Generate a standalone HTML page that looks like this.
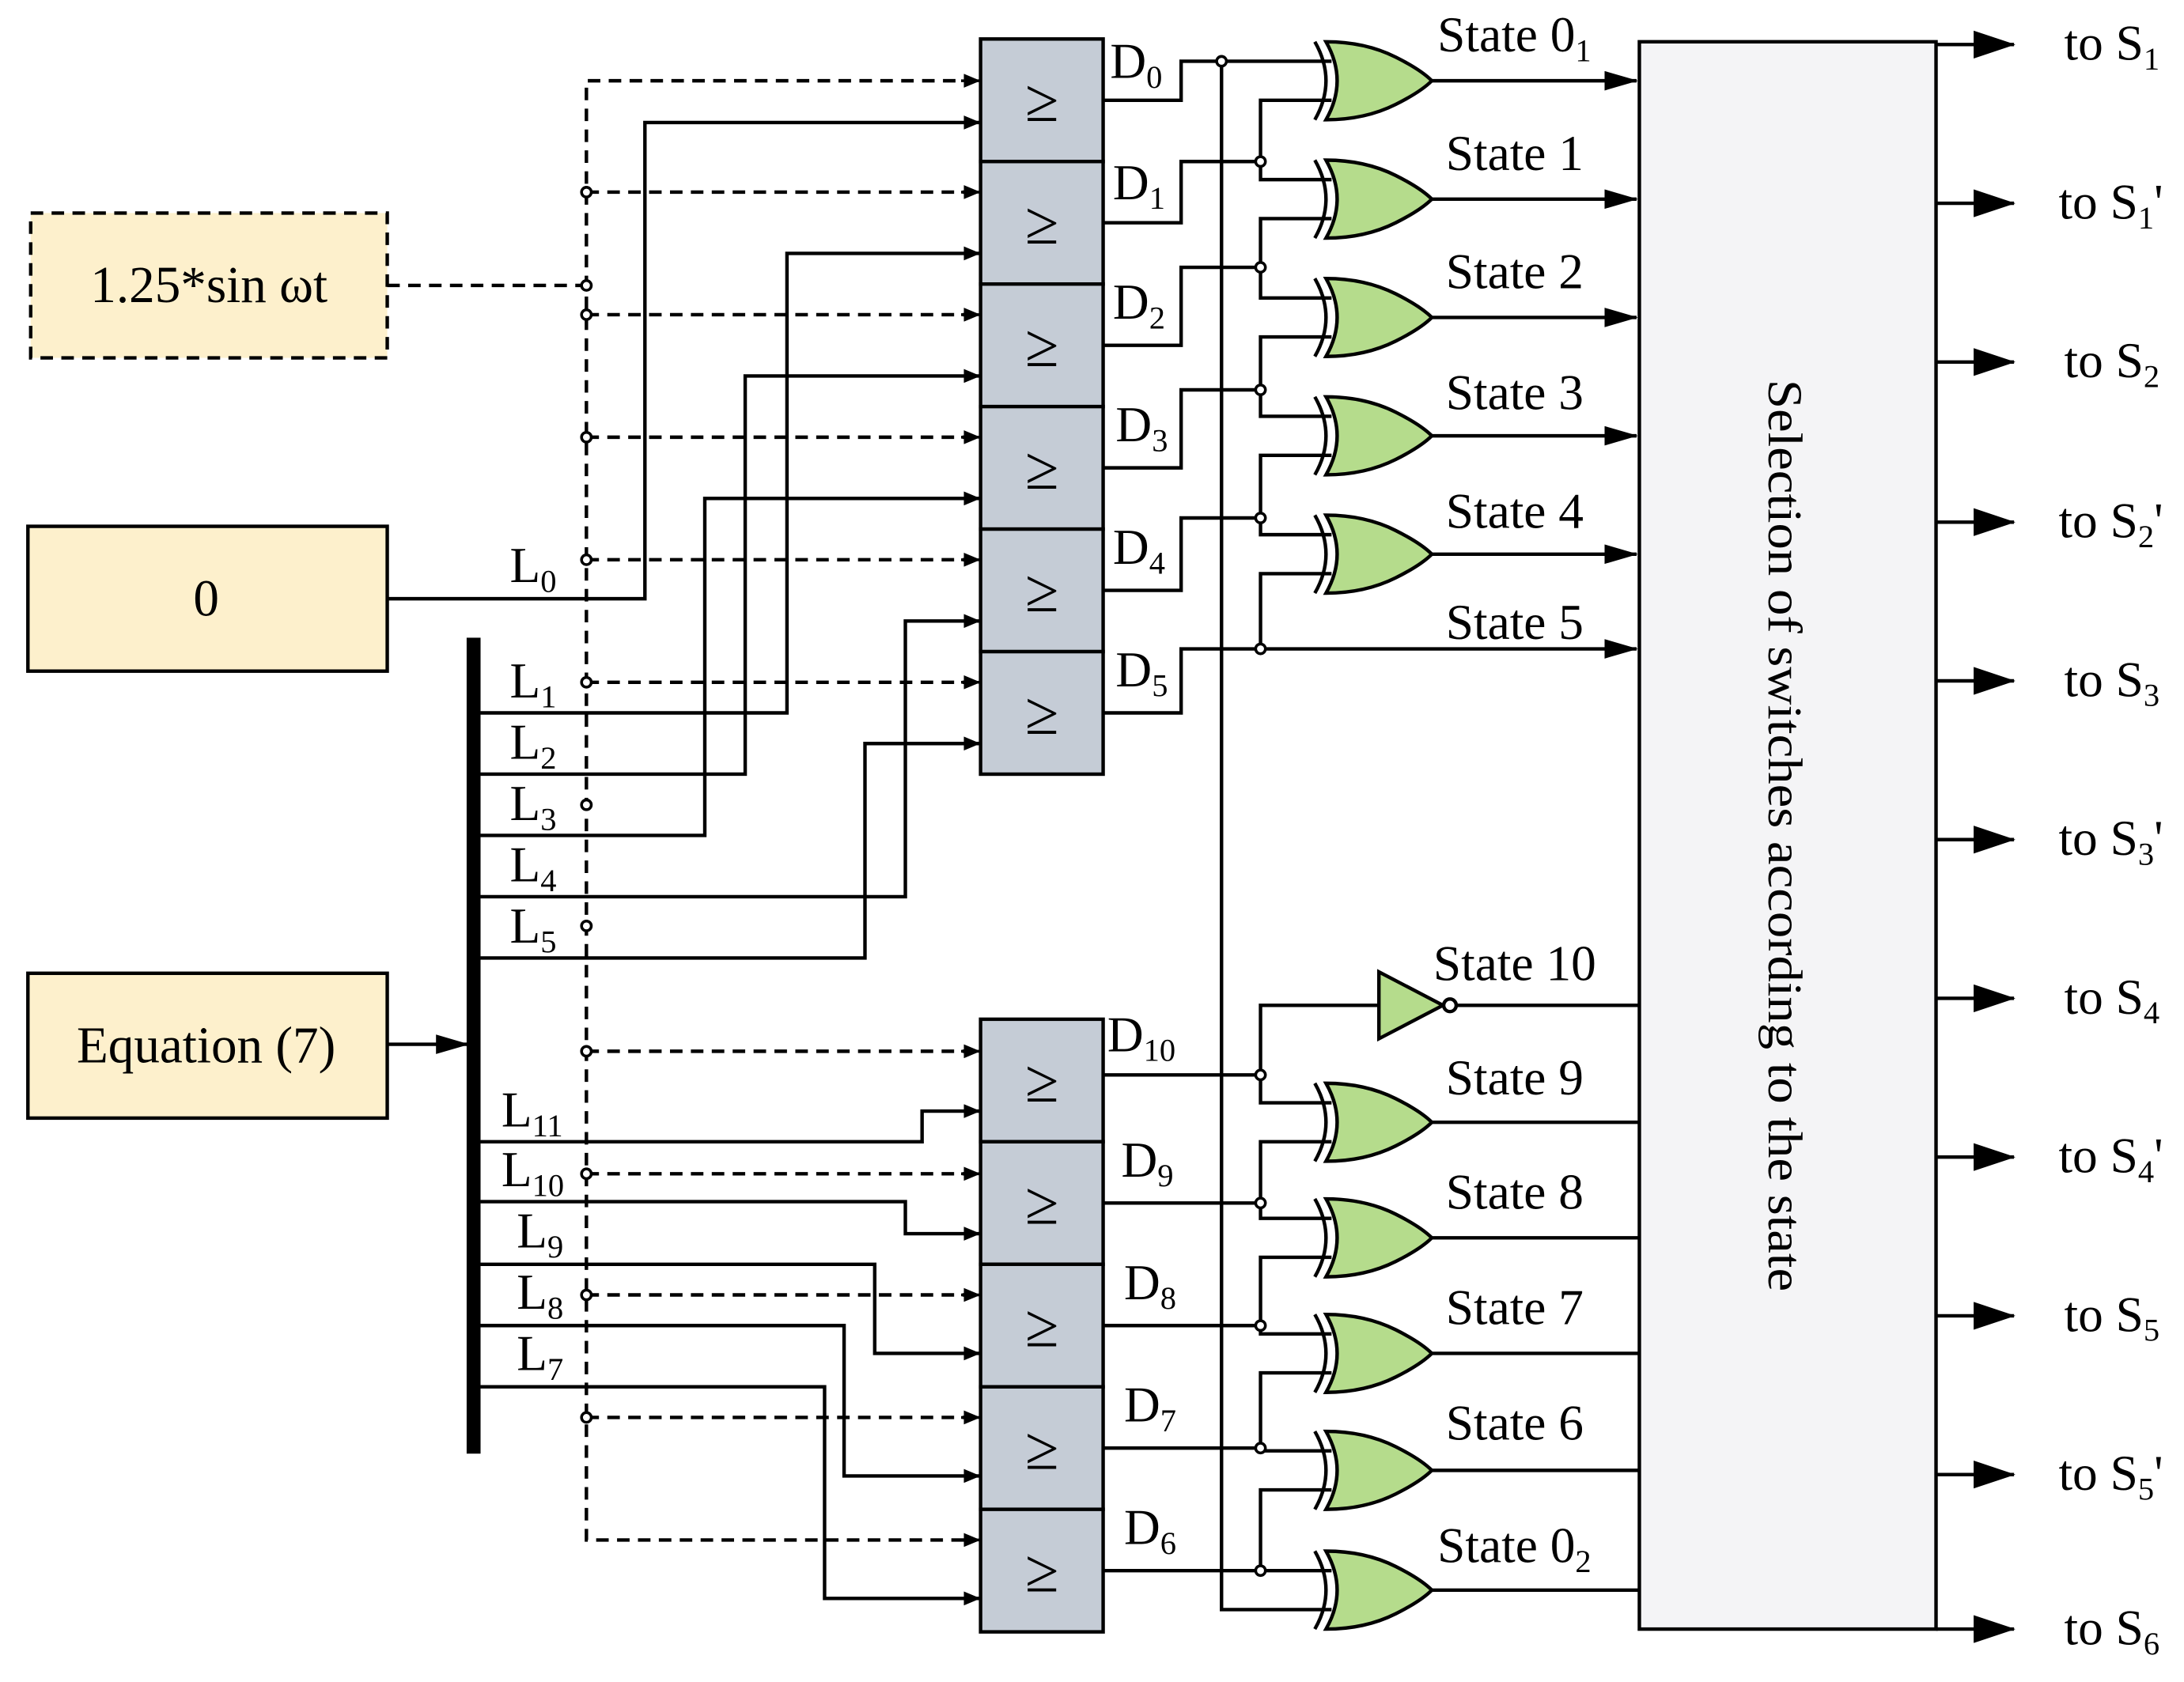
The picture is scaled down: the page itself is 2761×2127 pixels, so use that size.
<!DOCTYPE html>
<html><head><meta charset="utf-8"><style>html,body{margin:0;padding:0;background:#fff}svg{display:block}</style></head><body>
<svg width="2761" height="2127" viewBox="0 0 1568 1208" xmlns="http://www.w3.org/2000/svg" font-family="Liberation Serif, serif" font-size="36">
<defs>
<marker id="a" markerWidth="12" markerHeight="10" refX="11" refY="5" orient="auto" markerUnits="userSpaceOnUse"><path d="M0,0 L12,5 L0,10 Z" fill="#000"/></marker>
<marker id="b" markerWidth="30" markerHeight="20" refX="29" refY="10" orient="auto" markerUnits="userSpaceOnUse"><path d="M0,0 L30,10 L0,20 Z" fill="#000"/></marker>
<marker id="c" markerWidth="24" markerHeight="14" refX="23" refY="7" orient="auto" markerUnits="userSpaceOnUse"><path d="M0,0 L24,7 L0,14 Z" fill="#000"/></marker>
<g id="x"><path d="M952,-28 Q980,-28 1002,-17 Q1020,-8 1028,0 Q1020,8 1002,17 Q980,28 952,28 Q968,0 952,-28 Z" fill="#b5dc8c" stroke="#000" stroke-width="2.5"/><path d="M944,-28 Q960,0 944,28" fill="none" stroke="#000" stroke-width="2.5"/></g>
</defs>
<g stroke="#000" stroke-width="2.5" fill="none">
<rect x="22" y="153" width="256" height="104" fill="#fdf0cc" stroke-dasharray="9,6"/>
<rect x="20" y="378" width="258" height="104" fill="#fdf0cc"/>
<rect x="20" y="699" width="258" height="104" fill="#fdf0cc"/>
<line x1="278" y1="750" x2="336" y2="750" marker-end="url(#c)"/>
<rect x="335" y="458" width="10" height="586" fill="#000" stroke="none"/>
<g stroke-dasharray="9,6">
<path d="M278,205 H421"/>
<path d="M701,58 H421 V1106 H701"/>
<line x1="421" y1="138" x2="701" y2="138"/><line x1="421" y1="226" x2="701" y2="226"/><line x1="421" y1="314" x2="701" y2="314"/><line x1="421" y1="402" x2="701" y2="402"/><line x1="421" y1="490" x2="701" y2="490"/>
<line x1="421" y1="755" x2="701" y2="755"/><line x1="421" y1="843" x2="701" y2="843"/><line x1="421" y1="930" x2="701" y2="930"/><line x1="421" y1="1018" x2="701" y2="1018"/>
</g>
<g marker-end="url(#a)" stroke-width="2"><line x1="690" y1="58" x2="703" y2="58"/><line x1="690" y1="138" x2="703" y2="138"/><line x1="690" y1="226" x2="703" y2="226"/><line x1="690" y1="314" x2="703" y2="314"/><line x1="690" y1="402" x2="703" y2="402"/><line x1="690" y1="490" x2="703" y2="490"/><line x1="690" y1="755" x2="703" y2="755"/><line x1="690" y1="843" x2="703" y2="843"/><line x1="690" y1="930" x2="703" y2="930"/><line x1="690" y1="1018" x2="703" y2="1018"/><line x1="690" y1="1106" x2="703" y2="1106"/></g>
<g marker-end="url(#a)">
<path d="M278,430 H463 V88 H703"/>
<path d="M345,512 H565 V182 H703"/>
<path d="M345,556 H535 V270 H703"/>
<path d="M345,600 H506 V358 H703"/>
<path d="M345,644 H650 V446 H703"/>
<path d="M345,688 H621 V534 H703"/>
<path d="M345,820 H662 V798 H703"/>
<path d="M345,863 H650 V886 H703"/>
<path d="M345,908 H628 V972 H703"/>
<path d="M345,952 H606 V1060 H703"/>
<path d="M345,996 H592 V1148 H703"/>
</g>
<g fill="#c5ccd6"><rect x="704" y="28" width="88" height="88"/><rect x="704" y="116" width="88" height="88"/><rect x="704" y="204" width="88" height="88"/><rect x="704" y="292" width="88" height="88"/><rect x="704" y="380" width="88" height="88"/><rect x="704" y="468" width="88" height="88"/>
<rect x="704" y="732" width="88" height="88"/><rect x="704" y="820" width="88" height="88"/><rect x="704" y="908" width="88" height="88"/><rect x="704" y="996" width="88" height="88"/><rect x="704" y="1084" width="88" height="88"/></g>
<!-- upper outputs -->
<path d="M792,72 H848 V44 H956"/>
<path d="M877,44 V1156 H956"/>
<path d="M792,160 H848 V116 H905"/>
<path d="M792,248 H848 V192 H905"/>
<path d="M792,336 H848 V280 H905"/>
<path d="M792,424 H848 V372 H905"/>
<path d="M792,512 H848 V466 H905"/>
<path d="M956,72 H905 V129 H956"/>
<path d="M956,157 H905 V214 H956"/>
<path d="M956,242 H905 V299 H956"/>
<path d="M956,327 H905 V384 H956"/>
<path d="M956,412 H905 V466"/>
<line x1="905" y1="466" x2="1175" y2="466" marker-end="url(#c)"/>
<!-- lower -->
<path d="M792,772 H905"/>
<path d="M990,722 H905 V792 H956"/>
<path d="M792,864 H905"/><path d="M956,820 H905 V875 H956"/>
<path d="M792,952 H905"/><path d="M956,903 H905 V958 H956"/>
<path d="M792,1040 H905"/><path d="M956,986 H905 V1042 H956"/>
<path d="M792,1128 H905"/><path d="M956,1070 H905 V1128 H956"/>
<polygon points="990,698 990,746 1036,722" fill="#b5dc8c"/>
<circle cx="1041" cy="722" r="4.5" fill="#fff"/>
<line x1="1046" y1="722" x2="1177" y2="722"/>
<g marker-end="url(#c)"><line x1="1028" y1="58" x2="1175" y2="58"/><line x1="1028" y1="143" x2="1175" y2="143"/><line x1="1028" y1="228" x2="1175" y2="228"/><line x1="1028" y1="313" x2="1175" y2="313"/><line x1="1028" y1="398" x2="1175" y2="398"/></g>
<line x1="1028" y1="806" x2="1177" y2="806"/><line x1="1028" y1="889" x2="1177" y2="889"/><line x1="1028" y1="972" x2="1177" y2="972"/><line x1="1028" y1="1056" x2="1177" y2="1056"/><line x1="1028" y1="1142" x2="1177" y2="1142"/>
<rect x="1177" y="30" width="213" height="1140" fill="#f4f4f6"/>
<g marker-end="url(#b)"><line x1="1390" y1="32" x2="1446" y2="32"/><line x1="1390" y1="146" x2="1446" y2="146"/><line x1="1390" y1="260" x2="1446" y2="260"/><line x1="1390" y1="375" x2="1446" y2="375"/><line x1="1390" y1="489" x2="1446" y2="489"/><line x1="1390" y1="603" x2="1446" y2="603"/><line x1="1390" y1="717" x2="1446" y2="717"/><line x1="1390" y1="831" x2="1446" y2="831"/><line x1="1390" y1="945" x2="1446" y2="945"/><line x1="1390" y1="1059" x2="1446" y2="1059"/><line x1="1390" y1="1170" x2="1446" y2="1170"/></g>
</g>
<use href="#x" y="58"/><use href="#x" y="143"/><use href="#x" y="228"/><use href="#x" y="313"/><use href="#x" y="398"/>
<use href="#x" y="806"/><use href="#x" y="889"/><use href="#x" y="972"/><use href="#x" y="1056"/><use href="#x" y="1142"/>
<g fill="#fff" stroke="#000" stroke-width="2"><circle cx="421" cy="138" r="3.5"/><circle cx="421" cy="205" r="3.5"/><circle cx="421" cy="226" r="3.5"/><circle cx="421" cy="314" r="3.5"/><circle cx="421" cy="402" r="3.5"/><circle cx="421" cy="490" r="3.5"/><circle cx="421" cy="578" r="3.5"/><circle cx="421" cy="665" r="3.5"/><circle cx="421" cy="755" r="3.5"/><circle cx="421" cy="843" r="3.5"/><circle cx="421" cy="930" r="3.5"/><circle cx="421" cy="1018" r="3.5"/>
<circle cx="877" cy="44" r="3.5"/><circle cx="905" cy="116" r="3.5"/><circle cx="905" cy="192" r="3.5"/><circle cx="905" cy="280" r="3.5"/><circle cx="905" cy="372" r="3.5"/><circle cx="905" cy="466" r="3.5"/><circle cx="905" cy="772" r="3.5"/><circle cx="905" cy="864" r="3.5"/><circle cx="905" cy="952" r="3.5"/><circle cx="905" cy="1040" r="3.5"/><circle cx="905" cy="1128" r="3.5"/></g>
<g text-anchor="middle" font-size="37"><text x="150" y="217">1.25*sin ωt</text><text x="148" y="442">0</text><text x="148" y="763">Equation (7)</text></g>
<g font-size="44" text-anchor="middle"><text x="748" y="87">≥</text><text x="748" y="175">≥</text><text x="748" y="263">≥</text><text x="748" y="351">≥</text><text x="748" y="439">≥</text><text x="748" y="527">≥</text><text x="748" y="791">≥</text><text x="748" y="879">≥</text><text x="748" y="967">≥</text><text x="748" y="1055">≥</text><text x="748" y="1143">≥</text></g>
<g font-size="36">
<text x="366" y="418">L<tspan font-size="23" dy="7">0</tspan></text>
<text x="366" y="501">L<tspan font-size="23" dy="7">1</tspan></text>
<text x="366" y="545">L<tspan font-size="23" dy="7">2</tspan></text>
<text x="366" y="589">L<tspan font-size="23" dy="7">3</tspan></text>
<text x="366" y="633">L<tspan font-size="23" dy="7">4</tspan></text>
<text x="366" y="677">L<tspan font-size="23" dy="7">5</tspan></text>
<text x="360" y="809">L<tspan font-size="23" dy="7">11</tspan></text>
<text x="360" y="852">L<tspan font-size="23" dy="7">10</tspan></text>
<text x="371" y="896">L<tspan font-size="23" dy="7">9</tspan></text>
<text x="371" y="940">L<tspan font-size="23" dy="7">8</tspan></text>
<text x="371" y="984">L<tspan font-size="23" dy="7">7</tspan></text>
<text x="797" y="56">D<tspan font-size="23" dy="7">0</tspan></text>
<text x="799" y="143">D<tspan font-size="23" dy="7">1</tspan></text>
<text x="799" y="229">D<tspan font-size="23" dy="7">2</tspan></text>
<text x="801" y="317">D<tspan font-size="23" dy="7">3</tspan></text>
<text x="799" y="405">D<tspan font-size="23" dy="7">4</tspan></text>
<text x="801" y="493">D<tspan font-size="23" dy="7">5</tspan></text>
<text x="795" y="755">D<tspan font-size="23" dy="7">10</tspan></text>
<text x="805" y="845">D<tspan font-size="23" dy="7">9</tspan></text>
<text x="807" y="933">D<tspan font-size="23" dy="7">8</tspan></text>
<text x="807" y="1021">D<tspan font-size="23" dy="7">7</tspan></text>
<text x="807" y="1109">D<tspan font-size="23" dy="7">6</tspan></text>
<text x="1032" y="37">State 0<tspan font-size="23" dy="7">1</tspan></text>
<text x="1038" y="122">State 1</text><text x="1038" y="207">State 2</text><text x="1038" y="294">State 3</text><text x="1038" y="379">State 4</text><text x="1038" y="459">State 5</text>
<text x="1029" y="704">State 10</text><text x="1038" y="786">State 9</text><text x="1038" y="868">State 8</text><text x="1038" y="951">State 7</text><text x="1038" y="1034">State 6</text>
<text x="1032" y="1122">State 0<tspan font-size="23" dy="7">2</tspan></text>
<text x="1482" y="43">to S<tspan font-size="23" dy="7">1</tspan></text>
<text x="1478" y="157">to S<tspan font-size="23" dy="7">1</tspan><tspan dy="-7">'</tspan></text>
<text x="1482" y="271">to S<tspan font-size="23" dy="7">2</tspan></text>
<text x="1478" y="386">to S<tspan font-size="23" dy="7">2</tspan><tspan dy="-7">'</tspan></text>
<text x="1482" y="500">to S<tspan font-size="23" dy="7">3</tspan></text>
<text x="1478" y="614">to S<tspan font-size="23" dy="7">3</tspan><tspan dy="-7">'</tspan></text>
<text x="1482" y="728">to S<tspan font-size="23" dy="7">4</tspan></text>
<text x="1478" y="842">to S<tspan font-size="23" dy="7">4</tspan><tspan dy="-7">'</tspan></text>
<text x="1482" y="956">to S<tspan font-size="23" dy="7">5</tspan></text>
<text x="1478" y="1070">to S<tspan font-size="23" dy="7">5</tspan><tspan dy="-7">'</tspan></text>
<text x="1482" y="1181">to S<tspan font-size="23" dy="7">6</tspan></text>
</g>
<text transform="translate(1270,600) rotate(90)" text-anchor="middle" font-size="35" textLength="655" lengthAdjust="spacingAndGlyphs">Selection of switches according to the state</text>
</svg>
</body></html>
